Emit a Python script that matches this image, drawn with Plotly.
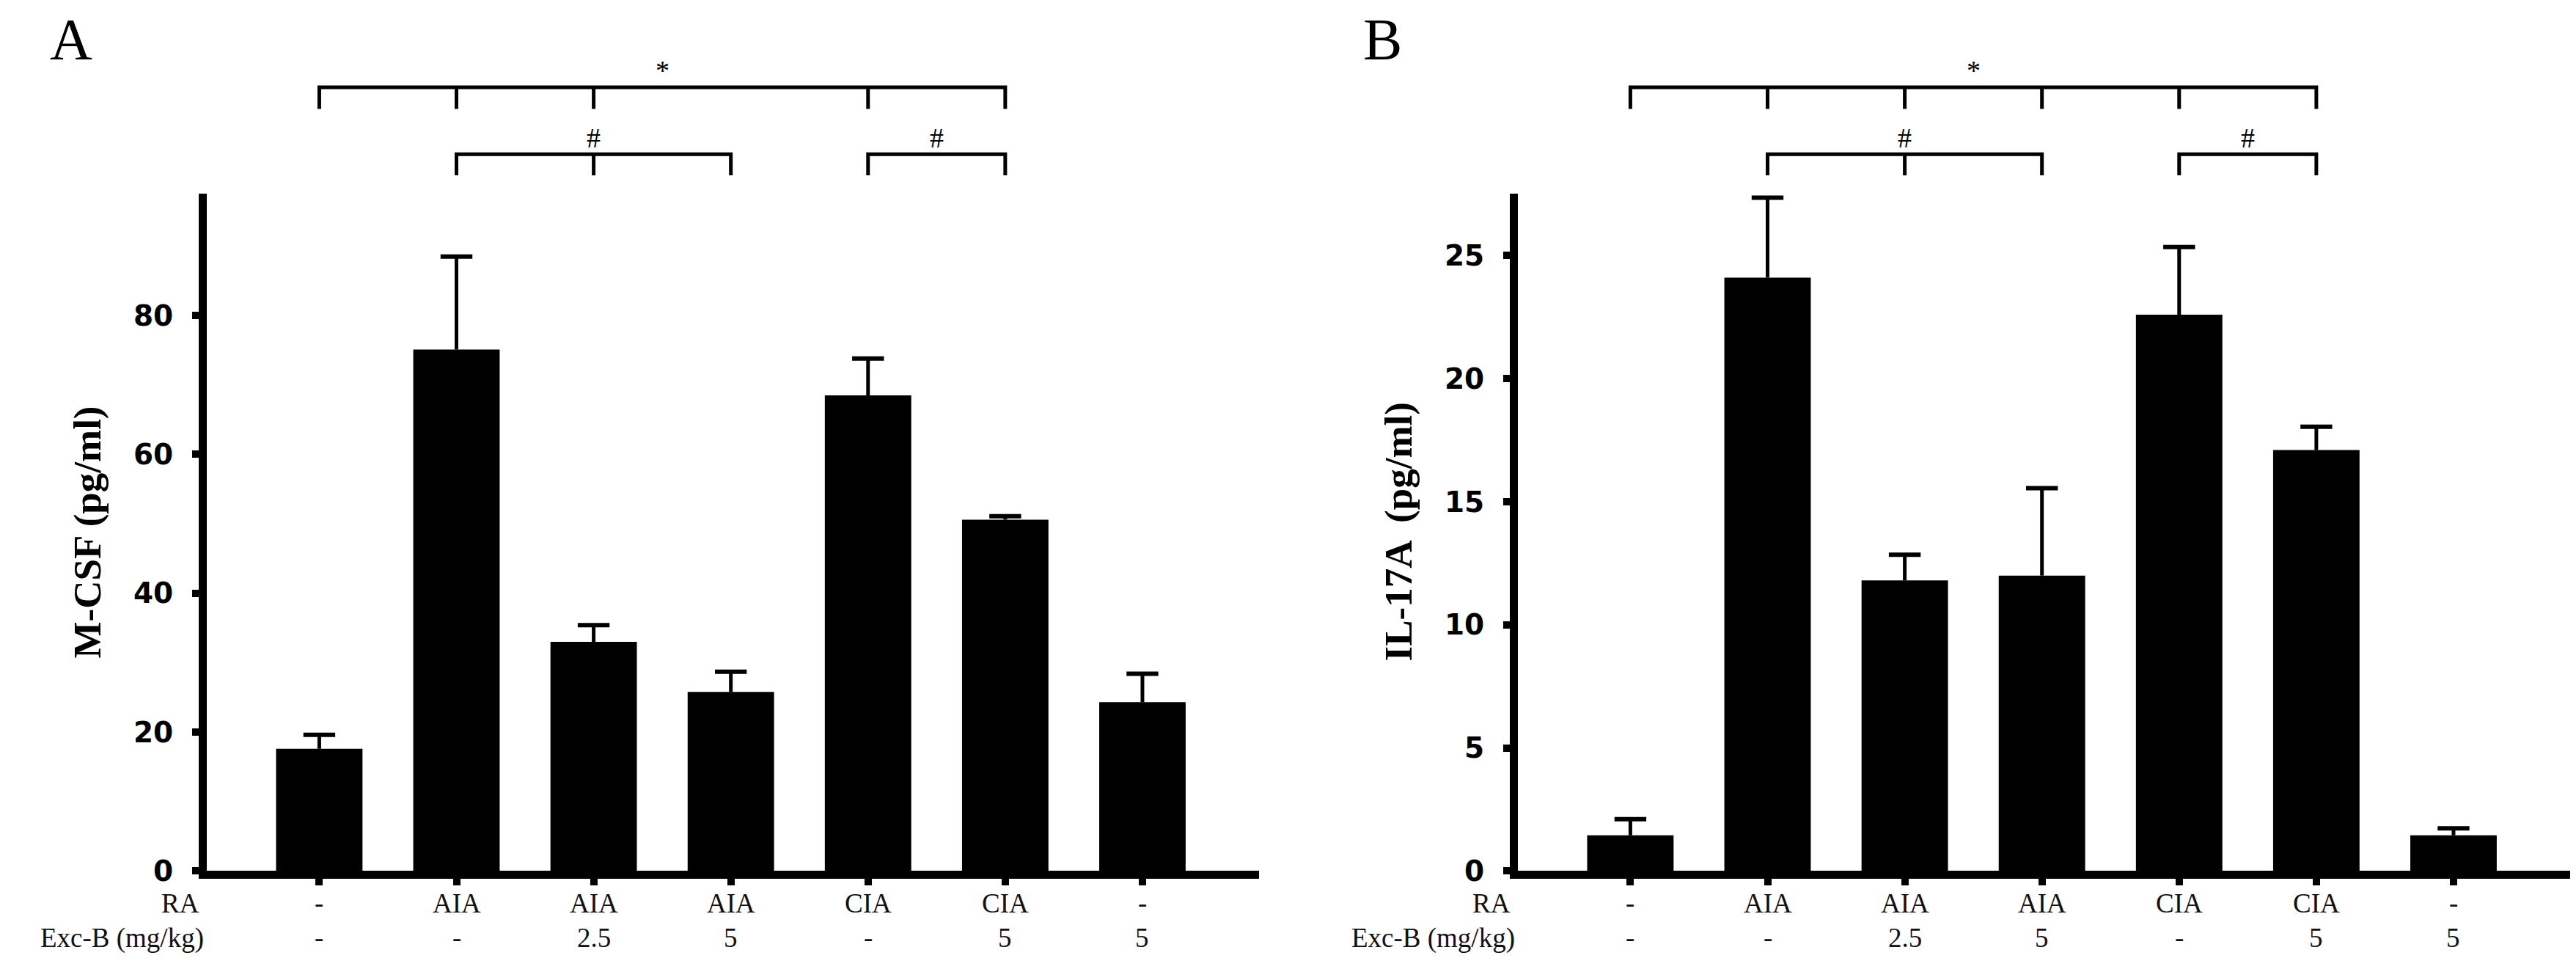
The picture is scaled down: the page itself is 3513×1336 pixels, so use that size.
import plotly.graph_objects as go

# groups (x categories)
ra_labels = ["-", "AIA", "AIA", "AIA", "CIA", "CIA", "-"]
exc_labels = ["-", "-", "2.5", "5", "-", "5", "5"]

# panel A: M-CSF
mcsf_mean = [17.6, 75.1, 33.0, 25.8, 68.5, 50.6, 24.3]
mcsf_err = [2.0, 13.4, 2.4, 2.9, 5.3, 0.5, 4.1]
mcsf_ticks = [0, 20, 40, 60, 80]

# panel B: IL-17A
il17_mean = [1.45, 24.1, 11.8, 12.0, 22.6, 17.1, 1.45]
il17_err = [0.65, 3.25, 1.05, 3.55, 2.75, 0.95, 0.28]
il17_ticks = [0, 5, 10, 15, 20, 25]

# significance brackets: (group indices, symbol, level)
brackets_a = [([0, 1, 2, 4, 5], "*", 0), ([1, 2, 3], "#", 1), ([4, 5], "#", 1)]
brackets_b = [([0, 1, 2, 3, 4, 5], "*", 0), ([1, 2, 3], "#", 1), ([4, 5], "#", 1)]

W, H = 3513, 1336
SERIF = "Liberation Serif"
SANS = "DejaVu Sans"

xs = list(range(len(ra_labels)))

fig = go.Figure()

panels = [
    dict(x="x", y="y", mean=mcsf_mean, err=mcsf_err, dom=[274 / W, 1709 / W],
         yr=[0, 97.6], ticks=mcsf_ticks, title="M-CSF (pg/ml)", letter="A",
         brackets=brackets_a),
    dict(x="x2", y="y2", mean=il17_mean, err=il17_err, dom=[2062 / W, 3497 / W],
         yr=[0, 27.53], ticks=il17_ticks, title="IL-17A  (pg/ml)", letter="B",
         brackets=brackets_b),
]

ydom = [136 / H, 1 - 260 / H]
annotations = []
shapes = []

# y levels (paper) for brackets: (text, line, tick bottom)
levels = [(0.933, 0.9155, 0.893), (0.863, 0.846, 0.824)]

lab_font = dict(family=SERIF, size=37, color="#111")

for i, p in enumerate(panels):
    fig.add_trace(go.Bar(
        x=xs, y=p["mean"], xaxis=p["x"], yaxis=p["y"],
        width=0.63, marker=dict(color="black", line=dict(width=0)),
        error_y=dict(type="data", array=p["err"], arrayminus=[0] * len(xs),
                     symmetric=False, color="black", thickness=5, width=0),
        showlegend=False, hoverinfo="skip",
    ))
    # error bar caps
    fig.add_trace(go.Scatter(
        x=xs, y=[m + e for m, e in zip(p["mean"], p["err"])],
        xaxis=p["x"], yaxis=p["y"], mode="markers",
        marker=dict(symbol="line-ew", size=31, line=dict(color="black", width=6)),
        showlegend=False, hoverinfo="skip", cliponaxis=False,
    ))
    sfx = "" if i == 0 else "2"
    fig.layout["xaxis" + sfx] = dict(
        domain=p["dom"], anchor=p["y"], range=[-0.82, 6.85],
        tickvals=xs, ticktext=[""] * len(xs), ticks="outside", ticklen=9,
        tickwidth=10, tickcolor="black", showline=True, linewidth=11,
        linecolor="black", showgrid=False, zeroline=False,
    )
    fig.layout["yaxis" + sfx] = dict(
        domain=ydom, anchor=p["x"], range=p["yr"], tickvals=p["ticks"],
        ticks="outside", ticklen=9, tickwidth=10, tickcolor="black",
        showline=True, linewidth=11, linecolor="black", showgrid=False,
        zeroline=False, ticklabelstandoff=18,
        tickfont=dict(family=SANS, size=39, color="black", weight="bold"),
    )

    left = p["dom"][0]
    # group labels
    for xi, ra, ex in zip(xs, ra_labels, exc_labels):
        annotations.append(dict(x=xi, y=0.0681, xref=p["x"], yref="paper",
                                text=ra, showarrow=False, yanchor="middle",
                                font=lab_font))
        annotations.append(dict(x=xi, y=0.0322, xref=p["x"], yref="paper",
                                text=ex, showarrow=False, yanchor="middle",
                                font=lab_font))
    annotations.append(dict(x=left, y=0.0681, xref="paper", yref="paper",
                            text="RA", showarrow=False, xanchor="right",
                            yanchor="middle", xshift=-8, font=lab_font))
    annotations.append(dict(x=left, y=0.0322, xref="paper", yref="paper",
                            text="Exc-B (mg/kg)", showarrow=False, xanchor="right",
                            yanchor="middle", xshift=-2, font=lab_font))
    # y title
    annotations.append(dict(x=left - 163 / W, y=1 - 730 / H, xref="paper",
                            yref="paper", text="<b>" + p["title"] + "</b>",
                            textangle=-90, showarrow=False, xanchor="center",
                            yanchor="middle",
                            font=dict(family=SERIF, size=53, color="black")))
    # panel letter
    annotations.append(dict(x=left - 185 / W, y=1, xref="paper",
                            yref="paper", text=p["letter"], showarrow=False,
                            xanchor="center", yanchor="top",
                            font=dict(family=SERIF, size=80, color="black")))

    # significance brackets
    for idx, sym, lev in p["brackets"]:
        ty, ly, by = levels[lev]
        x0, x1 = idx[0], idx[-1]
        shapes.append(dict(type="path", xref=p["x"], yref="paper",
                           path=f"M {x0},{by} L {x0},{ly} L {x1},{ly} L {x1},{by}",
                           line=dict(color="black", width=5)))
        for k in idx[1:-1]:
            shapes.append(dict(type="line", xref=p["x"], yref="paper",
                               x0=k, x1=k, y0=ly, y1=by,
                               line=dict(color="black", width=5)))
        annotations.append(dict(x=(x0 + x1) / 2, y=ty, xref=p["x"], yref="paper",
                                text=sym, showarrow=False, yanchor="middle",
                                font=dict(family=SERIF, size=38, color="black")))

fig.update_layout(
    width=W, height=H,
    margin=dict(l=0, r=0, t=0, b=0),
    plot_bgcolor="white", paper_bgcolor="white",
    annotations=annotations, shapes=shapes,
)

fig.write_html("out.html")
